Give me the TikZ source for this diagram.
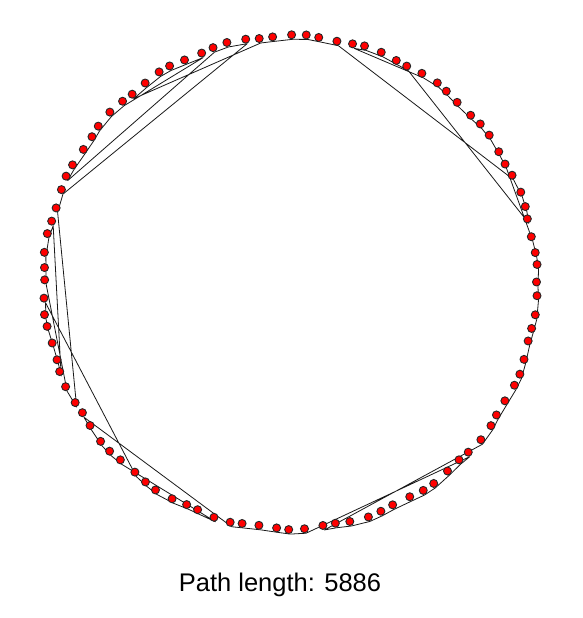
\documentclass[tikz,border=0pt]{standalone}
\usepackage{fontspec}
\setmainfont{Liberation Sans}
\usetikzlibrary{calc}

\tikzset{
  tour/.style={draw=black!90, line width=0.8pt, line join=round},
  city/.style={circle, draw=black!85, fill=red, line width=0.9pt, inner sep=0pt, minimum size=8pt},
}

\begin{document}
\begin{tikzpicture}[x=1pt,y=1pt]
\useasboundingbox (0,0) rectangle (583,618);
\coordinate (c) at (291.5,331.5);
% cities on the ring
\foreach \k in {0,...,99}{
  \pgfmathsetmacro\ang{3.6*\k+0.5*sin(113.3*\k)}
  \pgfmathsetmacro\rad{246.5+1.2*sin(77.7*\k)}
  \coordinate (p\k) at ($(c)+(\ang:\rad)$);
}
% tour
\draw[tour] (p25) foreach \k in {24,23,22,7,6,5,4,17,18,19,20,21,16,15,14,13,12,11,10,9,8,3,2,1,0,
  99,98,97,96,95,94,93,92,91,90,89,77,78,79,80,81,82,83,84,85,86,87,88,76,75,74,73,72,71,
  59,60,61,62,63,70,69,68,67,66,65,64,51,52,53,54,55,56,46,47,48,49,50,57,58,45,44,
  28,29,30,43,42,41,40,39,38,37,31,32,33,34,35,36,27,26} { -- (p\k) } -- cycle;
\foreach \k in {0,...,99}
  \node[city] (d\k) at ($(p\k)+(-1.5,4.5)$) {};
\node[anchor=base] (len) at (280,26) {\fontsize{25.5}{30}\selectfont Path length: 5886};
\end{tikzpicture}
\end{document}
